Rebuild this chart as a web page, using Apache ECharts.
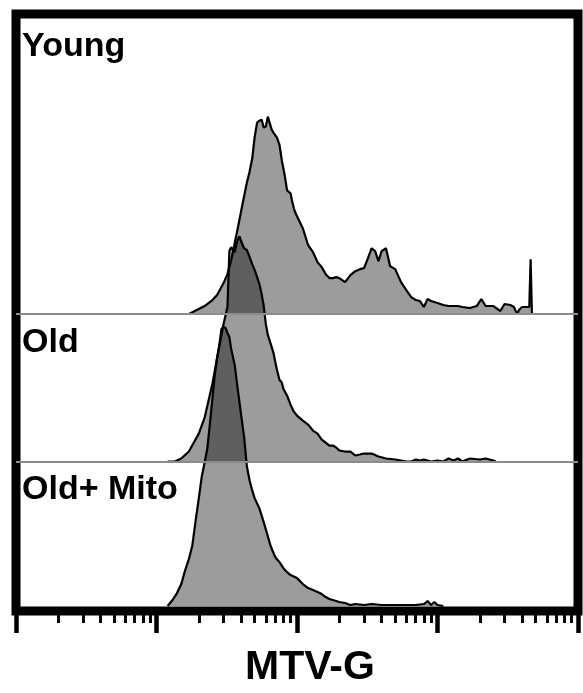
<!DOCTYPE html>
<html><head><meta charset="utf-8">
<script src="https://cdn.jsdelivr.net/npm/echarts@6/dist/echarts.min.js"></script>
<style>html,body{margin:0;padding:0;background:#fff}#c{width:583px;height:693px}</style>
</head><body><div id="c"></div>
<script>
// ---- data (MTV-G intensity vs. event count, three staggered histograms) ----
const seriesNames = ['Young', 'Old', 'Old+ Mito'];
const axisName = 'MTV-G';

const youngX = [150,170,200,220,250,270,300,320,340,360,380,400,420,440,460,480,500,520,540,560,580,600,620,640,660,680,700,720,750,780,800,820,850,870,900,920,950,970,1000,1100,1200,1300,1400,1500,1600,1700,1800,1900,2000,2200,2400,2600,2800,3000,3200,3400,3600,3800,4000,4300,4600,5000,5500,6000,6500,7000,7500,8000,8500,9000,10000,11000,12000,13000,14000,15000,17000,19000,20500,22000,25000,28000,30000,33000,35000,36000,37000,38000,40000,43000,45000,46000,46500,47000];
const youngCounts = [0,0,5,8,14,19,31,40,54,71,87,103,118,132,143,156,178,192,194,195,187,188,198,200,185,182,180,177,170,154,146,138,124,123,121,114,106,102,98,86,69,62,52,47,40,36,36,37,36,32,39,43,45,46,56,66,63,53,63,66,48,45,32,24,17,14,13,7,15,13,11,9,8,8,8,7,6,8,15,8,8,3,10,9,7,3,0,4,7,7,7,55,55,0];

const oldX = [120,135,150,170,200,220,250,270,300,320,330,340,360,370,380,390,400,420,440,460,480,500,520,540,560,580,600,620,650,680,700,720,750,780,800,850,900,950,1000,1100,1200,1300,1400,1500,1600,1700,1800,1900,2000,2200,2400,2600,2800,3000,3400,3800,4300,5000,5500,6000,6500,7000,7500,8000,9000,10000,11000,12000,13000,14000,15000,17000,20000,22000,25000,26000];
const oldCounts = [0,0,3,10,28,44,78,104,138,155,211,215,210,218,223,226,221,214,212,205,198,192,185,178,168,156,138,127,118,109,100,92,82,79,73,66,57,50,46,41,37,31,28,22,19,16,16,14,11,10,10,6,7,8,8,5,3,2,1,0,0,2,1,2,0,1,0,3,1,3,0,3,2,3,1,0];

const mitoX = [120,130,140,150,160,170,180,190,200,210,220,230,240,250,260,270,280,290,300,310,320,330,340,360,380,400,420,440,460,480,500,540,580,620,650,700,750,800,850,900,1000,1100,1200,1300,1400,1500,1600,1700,1800,2000,2200,2400,2600,3000,3400,4000,5000,6000,7000,8000,8500,9000,9500,10000,11000];
const mitoCounts = [0,6,13,22,36,47,61,86,108,130,144,158,183,208,232,249,262,278,280,279,274,270,258,242,216,192,170,140,126,116,108,98,84,70,60,49,44,38,34,31,28,22,18,16,14,12,9,7,6,4,3,1,2,1,2,1,1,1,1,2,5,1,4,1,0];

// vertical stagger of each histogram's baseline (count units)
const baselineOffsets = [293, 145, 0];

// axis decades (log10 of intensity) and minor tick factors
const decadeTicks = [1, 2, 3, 4, 5];
const minorFactors = [2, 3, 4, 5, 6, 7, 8, 9];

// ---- build ----
const minorTickValues = [];
decadeTicks.slice(0, -1).forEach(d => minorFactors.forEach(k => minorTickValues.push(d + Math.log10(k))));

const xs = [youngX, oldX, mitoX];
const ys = [youngCounts, oldCounts, mitoCounts];

const series = seriesNames.map((name, i) => {
  const off = baselineOffsets[i];
  const s = {
    name: name,
    type: 'line',
    xAxisIndex: 0,
    data: xs[i].map((x, j) => [x, ys[i][j] + off]),
    showSymbol: false,
    symbol: 'none',
    smooth: false,
    lineStyle: { color: '#000', width: 2.2 },
    areaStyle: { color: 'rgba(0,0,0,0.39)', opacity: 1, origin: off },
    animation: false,
    z: 2
  };
  if (off > 0) {
    s.markLine = {
      silent: true,
      symbol: ['none', 'none'],
      label: { show: false },
      lineStyle: { color: '#8c8c8c', width: 2, type: 'solid' },
      data: [{ yAxis: off }],
      animation: false
    };
  }
  return s;
});

const labelFont = 'bold 34px "Liberation Sans", Arial, sans-serif';
const labelTops = [30, 326, 473];

const chart = echarts.init(document.getElementById('c'), null, { renderer: 'canvas' });
chart.setOption({
  animation: false,
  backgroundColor: '#fff',
  grid: { left: 16, right: 5, top: 14, bottom: 80, show: true, borderColor: '#000', borderWidth: 9, backgroundColor: 'transparent' },
  xAxis: [
    {
      type: 'log', logBase: 10, min: 10, max: 100000,
      axisLine: { show: false }, axisTick: { show: false }, axisLabel: { show: false },
      splitLine: { show: false }, minorTick: { show: false },
      name: axisName, nameLocation: 'middle', nameGap: 36,
      nameTextStyle: { fontFamily: '"Liberation Sans", Arial, sans-serif', fontWeight: 'bold', fontSize: 41, color: '#000', padding: [0, 0, 0, 26] }
    },
    {
      type: 'value', min: decadeTicks[0], max: decadeTicks[decadeTicks.length - 1], interval: 1, position: 'bottom',
      axisLine: { show: false },
      axisTick: { show: true, length: 22, lineStyle: { color: '#000', width: 4.5 } },
      axisLabel: { show: false }, splitLine: { show: false }
    },
    {
      type: 'value', min: decadeTicks[0], max: decadeTicks[decadeTicks.length - 1], position: 'bottom',
      axisLine: { show: false },
      axisTick: { show: true, customValues: minorTickValues, length: 12, lineStyle: { color: '#000', width: 3 } },
      axisLabel: { show: false }, splitLine: { show: false }
    }
  ],
  yAxis: { type: 'value', min: -5, max: 594, show: false },
  graphic: seriesNames.map((n, i) => ({
    type: 'text', left: 22, top: labelTops[i], z: 10,
    style: { text: n, font: labelFont, fill: '#000' }
  })),
  series: series
});
</script>
</body></html>
